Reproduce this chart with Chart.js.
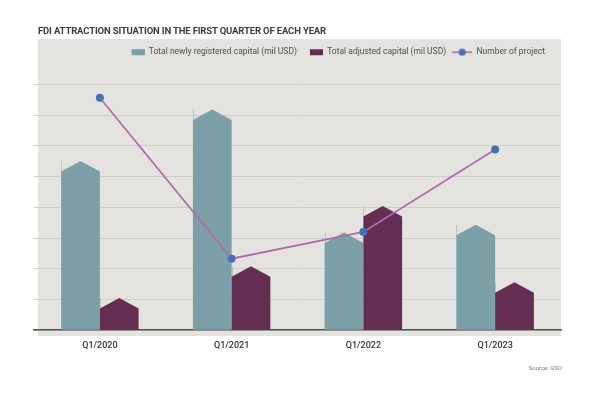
<!DOCTYPE html>
<html><head><meta charset="utf-8">
<script src="https://cdn.jsdelivr.net/npm/chart.js@4.4.1/dist/chart.umd.min.js"></script>
<style>
html,body{margin:0;padding:0;background:#fff;}
#wrap{position:relative;width:599px;height:393px;overflow:hidden;}
canvas{position:absolute;left:0;top:0;}
#title{position:absolute;left:38px;top:26px;font:700 9.5px Roboto,sans-serif;color:#3b3b3b;letter-spacing:-0.15px;line-height:9px;white-space:nowrap;}
#source{position:absolute;right:37px;top:365px;font:400 6px Roboto,sans-serif;color:#7a7a7a;line-height:6px;white-space:nowrap;}
</style></head><body>
<div id="wrap">
<canvas id="c" width="599" height="393"></canvas>
<div id="title">FDI ATTRACTION SITUATION IN THE FIRST QUARTER OF EACH YEAR</div>
<div id="source">Source: GSO</div>
</div>
<script>
const categories = ['Q1/2020', 'Q1/2021', 'Q1/2022', 'Q1/2023'];
const newCapital = [5510, 7190, 3180, 3430];
const adjustedCapital = [1050, 2080, 4040, 1560];
const projects = [946, 291, 400, 735];
const seriesNames = ['Total newly registered capital (mil USD)', 'Total adjusted capital (mil USD)', 'Number of project'];

const TEAL = '#7ba0a7', PLUM = '#642e52', LINE = '#b16bab', DOT = '#4671b9';

function barIcon(color){
  const c = document.createElement('canvas'); c.width = 20; c.height = 8;
  const x = c.getContext('2d'); x.fillStyle = color; x.fillRect(7, 1, 13, 6); return c;
}
function lineIcon(){
  const c = document.createElement('canvas'); c.width = 20; c.height = 8;
  const x = c.getContext('2d'); x.strokeStyle = LINE; x.lineWidth = 1.6;
  x.beginPath(); x.moveTo(0, 4); x.lineTo(20, 4); x.stroke();
  x.fillStyle = DOT; x.beginPath(); x.arc(10, 4, 3.6, 0, Math.PI*2); x.fill(); return c;
}
const icons = [barIcon(TEAL), barIcon(PLUM), lineIcon()];

const panel = {id:'panel', beforeDraw(chart){
  const ctx = chart.ctx; ctx.save(); ctx.fillStyle = '#e4e3df';
  ctx.fillRect(38, 39, 523, 297); ctx.restore();
}};
const legendGap = {id:'legendGap', beforeInit(chart){
  const lg = chart.legend; if(!lg) return; const f = lg.fit;
  lg.fit = function(){ f.call(this); this.height += 18; if (this.lineWidths) this.lineWidths[0] += 10; };
}};
const houseBars = {id:'houseBars', beforeDatasetsDraw(chart){
  const ctx = chart.ctx;
  chart.data.datasets.forEach((ds, i) => {
    if (ds.type !== 'bar') return;
    const meta = chart.getDatasetMeta(i);
    meta.data.forEach(el => {
      const p = el.getProps(['x','y','base','width'], true);
      const l = p.x - p.width/2, r = p.x + p.width/2, roof = 10.5;
      ctx.save();
      ctx.fillStyle = ds.houseColor;
      ctx.beginPath();
      ctx.moveTo(l, p.base); ctx.lineTo(l, p.y + roof); ctx.lineTo(p.x, p.y);
      ctx.lineTo(r, p.y + roof); ctx.lineTo(r, p.base); ctx.closePath(); ctx.fill();
      ctx.strokeStyle = 'rgba(150,150,150,0.45)'; ctx.lineWidth = 1;
      ctx.beginPath(); ctx.moveTo(Math.round(l)+0.5, p.y + roof); ctx.lineTo(Math.round(l)+0.5, p.y); ctx.stroke();
      ctx.restore();
    });
  });
}};

new Chart(document.getElementById('c'), {
  data: {
    labels: categories,
    datasets: [
      {type:'bar', label: seriesNames[0], data: newCapital, backgroundColor:'rgba(0,0,0,0)', houseColor: TEAL, order: 1, yAxisID:'y'},
      {type:'bar', label: seriesNames[1], data: adjustedCapital, backgroundColor:'rgba(0,0,0,0)', houseColor: PLUM, order: 1, yAxisID:'y'},
      {type:'line', label: seriesNames[2], data: projects, borderColor: LINE, borderWidth: 1.8,
       pointBackgroundColor: DOT, pointBorderColor: DOT, pointRadius: 4, pointBorderWidth: 0, tension: 0, order: 0, yAxisID:'y1'}
    ]
  },
  options: {
    responsive: false, animation: false, devicePixelRatio: 1,
    categoryPercentage: 0.588, barPercentage: 1.0,
    layout: {padding: {left: 34, right: 38, top: 42, bottom: 32}},
    plugins: {
      tooltip: {enabled: false},
      legend: {
        position: 'top', align: 'end',
        labels: {
          usePointStyle: true, pointStyleWidth: 20, boxHeight: 8, padding: 6,
          font: {family: 'Roboto', size: 8.5}, color: '#4f4f4f',
          generateLabels: chart => chart.data.datasets.map((ds, i) => ({
            text: ds.label, pointStyle: icons[i], datasetIndex: i, hidden: false,
            fillStyle: 'rgba(0,0,0,0)', strokeStyle: 'rgba(0,0,0,0)', lineWidth: 0, fontColor: '#4f4f4f'
          }))
        }
      }
    },
    scales: {
      x: {
        grid: {display: false, drawTicks: false},
        border: {display: true, color: '#555', width: 1.5},
        ticks: {padding: 10, color: '#333', font: {family: 'Roboto', size: 9, weight: '500'}}
      },
      y: {
        min: 0, max: 8000, ticks: {display: false, stepSize: 1000},
        grid: {color: '#cfcdc9', lineWidth: 1, drawTicks: false},
        border: {display: false}
      },
      y1: {display: false, min: 0, max: 1000, position: 'right'}
    }
  },
  plugins: [panel, legendGap, houseBars]
});
</script>
</body></html>
